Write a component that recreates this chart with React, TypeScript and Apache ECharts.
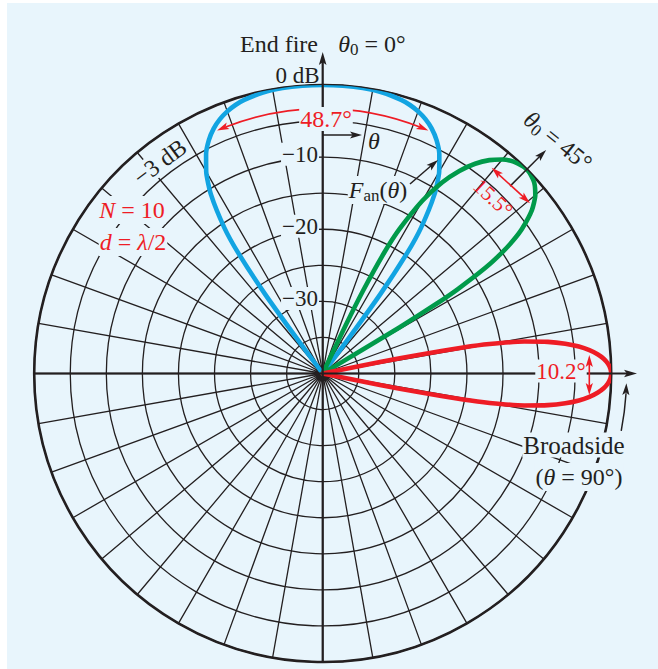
import React, { useEffect, useRef } from "react";
import * as echarts from "echarts";

// ---- scale (dB) and angular grid ----
const dbMin = -40;
const dbMax = 0;
const dbStep = 5;
const angleStep = 10;

// ---- main-lobe patterns, N = 10, d = λ/2 (theta in degrees from array axis, gain in dB) ----
const endfireTheta = [-36.87, -36.5, -36, -35, -34, -32, -30, -28, -26, -24, -22, -20, -18, -16, -12, -8, -4, 0, 4, 8, 12, 16, 18, 20, 22, 24, 26, 28, 30, 32, 34, 35, 36, 36.5, 36.87];
const endfireDb = [-40, -34.0, -26.4, -19.5, -15.6, -10.8, -7.7, -5.56, -3.99, -2.83, -1.97, -1.33, -0.86, -0.54, -0.17, -0.03, 0, 0, 0, -0.03, -0.17, -0.54, -0.86, -1.33, -1.97, -2.83, -3.99, -5.56, -7.7, -10.8, -15.6, -19.5, -26.4, -34.0, -40];

const scan45Theta = [24.88, 25.5, 26, 27, 28, 30, 32, 34, 36, 38, 40, 42, 44, 45, 46, 48, 50, 52, 54, 55, 56, 57, 58, 58.5, 59, 59.3, 59.53];
const scan45Db = [-40, -32.6, -27.2, -21.1, -17.3, -12.3, -8.77, -6.12, -4.05, -2.46, -1.27, -0.46, -0.05, 0, -0.06, -0.52, -1.52, -3.19, -5.81, -7.63, -9.98, -13.1, -17.9, -21.5, -27.6, -35.0, -40];

const broadsideTheta = [78.46, 78.75, 79, 79.5, 80, 81, 82, 83, 84, 85, 86, 87, 88, 89, 90, 91, 92, 93, 94, 95, 96, 97, 98, 99, 100, 100.5, 101, 101.25, 101.54];
const broadsideDb = [-40, -31.9, -26.3, -20.2, -16.5, -11.7, -8.48, -6.11, -4.29, -2.88, -1.8, -0.99, -0.44, -0.11, 0, -0.11, -0.44, -0.99, -1.8, -2.88, -4.29, -6.11, -8.48, -11.7, -16.5, -20.2, -26.3, -31.9, -40];

const ringLabelDb = [-10, -20, -30];
const ringLabels = ["−10", "−20", "−30"];

// ---- layout / styling ----
const CX = 322.7;
const CY = 373.5;
const R = 288.5;
const BG = "#e8f5fc";
const INK = "#231f20";
const RED = "#ee1c25";
const BLUE = "#12a4e2";
const GREEN = "#009a4a";
const FONT = '"Liberation Serif", "Times New Roman", "DejaVu Serif", serif';
const FS = 24;

const rPx = (db: number) => (R * (db - dbMin)) / (dbMax - dbMin);
const polarPt = (thetaDeg: number, r: number): [number, number] => {
  const a = (thetaDeg * Math.PI) / 180;
  return [CX + r * Math.sin(a), CY - r * Math.cos(a)];
};

function arrowHead(tx: number, ty: number, ang: number, color: string, len = 12, half = 3.6) {
  const bx = tx - len * Math.cos(ang);
  const by = ty - len * Math.sin(ang);
  const px = -Math.sin(ang) * half;
  const py = Math.cos(ang) * half;
  const nx = tx - len * 0.78 * Math.cos(ang);
  const ny = ty - len * 0.78 * Math.sin(ang);
  return {
    type: "polygon",
    z: 130,
    shape: { points: [[tx, ty], [bx + px, by + py], [nx, ny], [bx - px, by - py]] },
    style: { fill: color },
  };
}

function line(x1: number, y1: number, x2: number, y2: number, color: string, width: number, z = 105) {
  return {
    type: "line",
    z,
    shape: { x1, y1, x2, y2 },
    style: { stroke: color, lineWidth: width },
  };
}

type TOpts = { color?: string; size?: number; italic?: boolean; align?: string; rotation?: number; bg?: boolean; rich?: any };
function txt(x: number, y: number, text: string, o: TOpts = {}) {
  const size = o.size || FS;
  return {
    type: "text",
    x,
    y,
    z: 120,
    rotation: o.rotation || 0,
    style: {
      text,
      fill: o.color || INK,
      fontFamily: FONT,
      fontSize: size,
      fontStyle: o.italic ? "italic" : "normal",
      align: o.align || "center",
      verticalAlign: "middle",
      backgroundColor: o.bg ? BG : "transparent",
      padding: o.bg ? [0, 1, 0, 1] : 0,
      rich: o.rich,
    },
  };
}

function richStyles(color: string, size = FS) {
  return {
    i: { fontFamily: FONT, fontSize: size, fontStyle: "italic", fill: color, lineHeight: 28, verticalAlign: "middle" },
    n: { fontFamily: FONT, fontSize: size, fontStyle: "normal", fill: color, lineHeight: 28, verticalAlign: "middle" },
    s: { fontFamily: FONT, fontSize: 17, fontStyle: "normal", fill: color, lineHeight: 17, verticalAlign: "bottom" },
  };
}

const toSeries = (thetas: number[], dbs: number[]) => thetas.map((t, i) => [dbs[i], (t + 360) % 360]);

export default function App() {
  const ref = useRef<HTMLDivElement>(null);
  useEffect(() => {
    const chart = echarts.init(ref.current!, null, { renderer: "svg" });

    const r3 = rPx(-3) - 2;
    const halfArc = 23.5;
    const [arcRx, arcRy] = polarPt(halfArc, r3);
    const [arcLx, arcLy] = polarPt(-halfArc, r3);

    const a45s = polarPt(45, 265);
    const a45t = polarPt(45, 316);

    const g15a: [number, number] = [491.7, 167.7];
    const g15b: [number, number] = [530, 203.3];
    const ang15 = Math.atan2(g15b[1] - g15a[1], g15b[0] - g15a[0]);

    const bsR = 304;
    const bsA0 = 0.045;
    const bsA1 = 0.19;

    const graphics: any[] = [
      // main axes
      line(CX, CY + R, CX, 60, INK, 2.2),
      arrowHead(CX, 52, -Math.PI / 2, INK, 13, 3.8),
      line(CX - R, CY, 628, CY, INK, 2.2),
      arrowHead(637, CY, 0, INK, 13, 3.8),
      // θ0 = 45° arrow
      line(a45s[0], a45s[1], a45t[0] - 6, a45t[1] + 6, INK, 1.5),
      arrowHead(a45t[0], a45t[1], -Math.PI / 4, INK),
      // F_an arrow
      line(410, 184, 432, 165, INK, 1.5),
      arrowHead(438, 160, Math.atan2(-24, 28), INK),
      // θ arrow
      line(CX, 135, 354, 135, INK, 1.5),
      arrowHead(362, 135, 0, INK),
      // broadside curved arrow
      {
        type: "arc",
        z: 105,
        shape: { cx: CX, cy: CY, r: bsR, startAngle: bsA0 + 0.02, endAngle: bsA1, clockwise: true },
        style: { stroke: INK, lineWidth: 1.5, fill: "none" },
      },
      arrowHead(CX + bsR * Math.cos(bsA0), CY + bsR * Math.sin(bsA0) - 4, -Math.PI / 2 + bsA0, INK),
      // red −3 dB beamwidth markers
      {
        type: "arc",
        z: 105,
        shape: {
          cx: CX,
          cy: CY,
          r: r3,
          startAngle: ((-90 - halfArc + 2) * Math.PI) / 180,
          endAngle: ((-90 + halfArc - 2) * Math.PI) / 180,
          clockwise: true,
        },
        style: { stroke: RED, lineWidth: 1.6, fill: "none" },
      },
      arrowHead(arcRx, arcRy, (halfArc * Math.PI) / 180, RED),
      arrowHead(arcLx, arcLy, Math.PI - (halfArc * Math.PI) / 180, RED),
      line(g15a[0] + 5, g15a[1] + 5, g15b[0] - 5, g15b[1] - 5, RED, 1.6, 125),
      arrowHead(g15b[0], g15b[1], ang15, RED),
      arrowHead(g15a[0], g15a[1], ang15 + Math.PI, RED),
      line(589.3, 362, 589.3, 388, RED, 1.6, 125),
      arrowHead(589.3, 355, -Math.PI / 2, RED),
      arrowHead(589.3, 395, Math.PI / 2, RED),
      // texts
      txt(279, 44, "End fire"),
      txt(372, 44, "{i|θ}{s|0}{n| = 0°}", { rich: richStyles(INK) }),
      txt(297.5, 75, "0 dB", { size: 23 }),
      ...ringLabelDb.map((db, i) => txt(319, CY - rPx(db) - 3, ringLabels[i], { align: "right", bg: true, size: 23 })),
      txt(326, 119, "48.7°", { color: RED, bg: true }),
      txt(374, 141, "θ", { italic: true }),
      txt(378, 190, "{i|F}{s|an}{n|(}{i|θ}{n|)}", { rich: richStyles(INK), bg: true }),
      txt(160, 162, "−3 dB", { rotation: 0.64, bg: true }),
      txt(132, 210, "{i|N}{n| = 10}", { rich: richStyles(RED), bg: true }),
      txt(133, 242, "{i|d}{n| = }{i|λ}{n|/2}", { rich: richStyles(RED), bg: true }),
      txt(558, 141, "{i|θ}{s|0}{n| = 45°}", { rich: richStyles(INK), rotation: -0.68 }),
      txt(493, 198, "15.5°", { color: RED, rotation: -0.75, size: 21 }),
      txt(561, 371, "10.2°", { color: RED, bg: true, size: 23 }),
      txt(574, 445, "Broadside", { bg: true, size: 25 }),
      txt(579, 477, "({i|θ}{n| = 90°)}", { rich: richStyles(INK), bg: true }),
    ];

    const lobe = (data: number[][], color: string) => ({
      type: "line",
      coordinateSystem: "polar",
      data,
      showSymbol: false,
      symbol: "none",
      smooth: 0.2,
      clip: false,
      z: 3,
      lineStyle: { color, width: 4.6, cap: "round", join: "round" },
      silent: true,
    });

    chart.setOption({
      animation: false,
      backgroundColor: "transparent",
      polar: { center: [CX, CY], radius: R },
      angleAxis: {
        type: "value",
        min: 0,
        max: 360,
        interval: angleStep,
        startAngle: 90,
        clockwise: true,
        axisLine: { show: true, lineStyle: { color: INK, width: 2.6 } },
        axisTick: { show: false },
        axisLabel: { show: false },
        splitLine: { show: true, lineStyle: { color: INK, width: 1.3 } },
      },
      radiusAxis: {
        type: "value",
        min: dbMin,
        max: dbMax,
        interval: dbStep,
        axisLine: { show: false },
        axisTick: { show: false },
        axisLabel: { show: false },
        splitLine: { show: true, lineStyle: { color: INK, width: 1.3 } },
      },
      series: [
        lobe(toSeries(endfireTheta, endfireDb), BLUE),
        lobe(toSeries(scan45Theta, scan45Db), GREEN),
        lobe(toSeries(broadsideTheta, broadsideDb), RED),
      ],
      graphic: { elements: graphics },
    });
    return () => chart.dispose();
  }, []);

  return (
    <div style={{ position: "absolute", left: 0, top: 0, width: 658, height: 669, background: "#ffffff" }}>
      <div style={{ position: "absolute", left: 7, top: 3, width: 651, height: 666, background: BG }} />
      <div ref={ref} style={{ position: "absolute", left: 0, top: 0, width: 658, height: 669 }} />
    </div>
  );
}
